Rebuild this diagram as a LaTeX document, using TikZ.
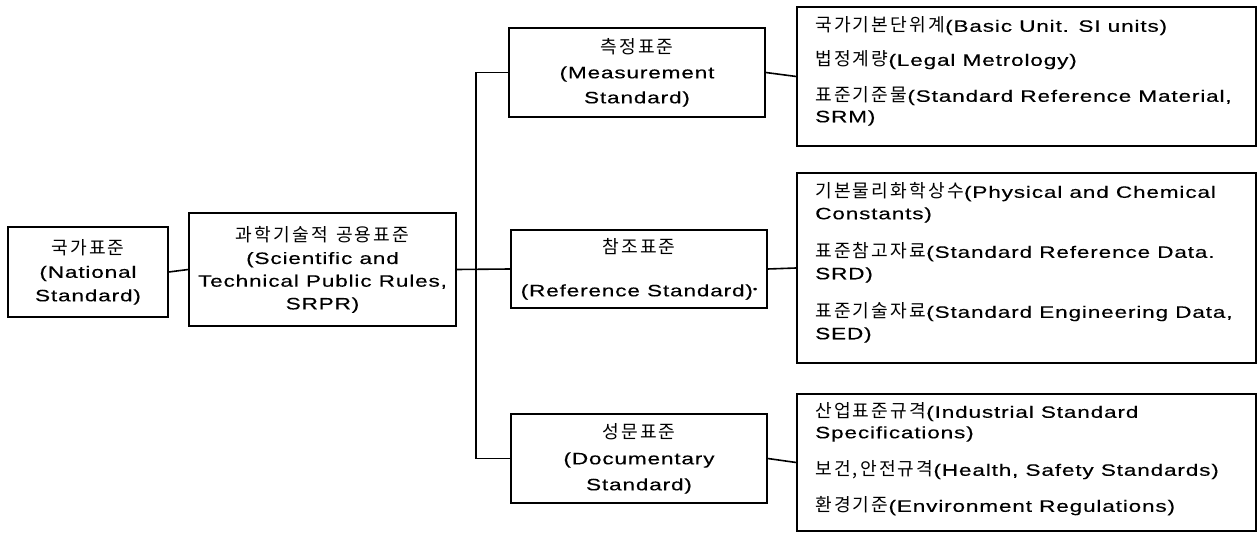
\documentclass[tikz,border=0pt]{standalone}
\usepackage{fontspec}
\setmainfont{Liberation Sans}[FakeStretch=1.37, LetterSpace=5, FakeBold=0.3]
\newfontfamily\krfont{Noto Sans CJK KR}[Scale=1.1, LetterSpace=12]
\newcommand\K[1]{{\krfont #1}}
\newcommand\dotmark{{\fontsize{9}{9}\selectfont\raisebox{0.9ex}{•}}}

\tikzset{
  box/.style={draw, line width=1.6pt, inner sep=0pt, align=center},
  dbox/.style={draw, line width=1.6pt, inner sep=0pt,
    minimum width=459pt},
  item/.style={anchor=west, inner sep=0pt,
    font=\fontsize{16.5}{22}\selectfont},
  conn/.style={line width=1.6pt},
}

\begin{document}
\begin{tikzpicture}[x=1pt, y=-1pt]
\useasboundingbox (0,0) rectangle (1260,534);

% main chain
\node[box, minimum width=160pt, minimum height=90pt,
  font=\fontsize{16.5}{23.5}\selectfont] (A) at (88,272)
  {\K{국가표준}\\(National\\Standard)};
\node[box, minimum width=267pt, minimum height=113pt,
  font=\fontsize{16.5}{22.7}\selectfont] (B) at (322.5,269.5)
  {\K{과학기술적\hspace{0.45em}공용표준}\\(Scientific and\\Technical Public Rules,\\SRPR)};

% the three kinds of standard
\node[box, minimum width=256pt, minimum height=89pt,
  font=\fontsize{16.5}{25}\selectfont] (M) at (637,72.5)
  {\K{측정표준}\\(Measurement\\Standard)};
\node[box, minimum width=256pt, minimum height=78pt,
  font=\fontsize{16.5}{23}\selectfont] (R) at (639,269)
  {\K{참조표준}\\[20pt](Reference Standard)\dotmark};
\node[box, minimum width=256pt, minimum height=89pt,
  font=\fontsize{16.5}{26}\selectfont] (D) at (639,458.5)
  {\K{성문표준}\\(Documentary\\Standard)};

% detail boxes
\node[dbox, minimum height=139pt] (d1) at (1026.5,76.5) {};
\node[dbox, minimum height=190pt] (d2) at (1026.5,268) {};
\node[dbox, minimum height=137pt] (d3) at (1026.5,462.5) {};

\node[item] (m1) at (815,26) {\K{국가기본단위계}(Basic Unit. SI units)};
\node[item] (m2) at (815,60) {\K{법정계량}(Legal Metrology)};
\node[item] (m3) at (815,96) {\K{표준기준물}(Standard Reference Material,};
\node[item] (m4) at (815,118) {SRM)};

\node[item] (r1) at (815,192) {\K{기본물리화학상수}(Physical and Chemical};
\node[item] (r2) at (815,215) {Constants)};
\node[item] (r3) at (815,252) {\K{표준참고자료}(Standard Reference Data.};
\node[item] (r4) at (815,275) {SRD)};
\node[item] (r5) at (815,312) {\K{표준기술자료}(Standard Engineering Data,};
\node[item] (r6) at (815,335) {SED)};

\node[item] (s1) at (815,412) {\K{산업표준규격}(Industrial Standard};
\node[item] (s2) at (815,434) {Specifications)};
\node[item] (s3) at (815,470) {\K{보건,안전규격}(Health, Safety Standards)};
\node[item] (s4) at (815,506) {\K{환경기준}(Environment Regulations)};

% connectors
\coordinate (tr) at (476,269);
\draw[conn] (A.east) -- (B.west);
\draw[conn] (B.east) -- (R.west);
\draw[conn] (M.west) -| (tr) |- (D.west);
\draw[conn] (M.east) -- (d1.west);
\draw[conn] (R.east) -- (d2.west);
\draw[conn] (D.east) -- (d3.west);
\end{tikzpicture}
\end{document}
